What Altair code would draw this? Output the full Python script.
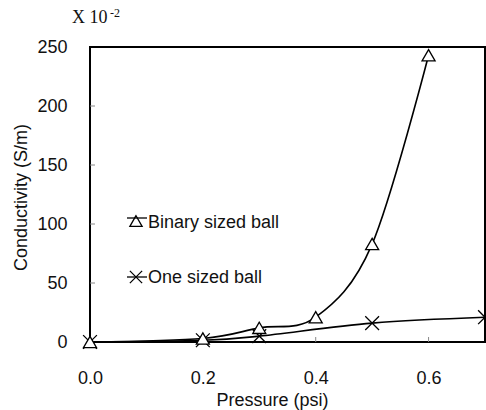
import altair as alt
import pandas as pd

# ---- data ----
pressure_binary = [0.0, 0.2, 0.3, 0.4, 0.5, 0.6]
cond_binary = [0, 3, 12, 21, 83, 243]
pressure_one = [0.0, 0.2, 0.3, 0.5, 0.7]
cond_one = [0, 1.5, 5, 16, 21]
legend_labels = ["Binary sized ball", "One sized ball"]
x_ticks = [0.0, 0.2, 0.4, 0.6]
y_ticks = [0, 50, 100, 150, 200, 250]

FONT = "Liberation Sans"
W, H = 395, 295

df_b = pd.DataFrame({"p": pressure_binary, "c": cond_binary})
df_o = pd.DataFrame({"p": pressure_one, "c": cond_one})
df_xt = pd.DataFrame({"p": x_ticks[1:]})
df_yt = pd.DataFrame({"c": y_ticks[1:-1]})
one = pd.DataFrame({"k": [0]})

xs = alt.Scale(domain=[0, 0.7], nice=False, zero=False)
ys = alt.Scale(domain=[0, 250], nice=False)

xaxis = alt.Axis(values=x_ticks, format=".1f", title="Pressure (psi)", grid=False,
                 domain=False, ticks=False, tickSize=0, labelPadding=27, labelFlush=False,
                 labelFont=FONT, labelFontSize=18, labelColor="#111",
                 titleFont=FONT, titleFontSize=18, titleFontWeight="normal", titleColor="#111",
                 titleX=182, titleY=63, titleBaseline="alphabetic")
yaxis = alt.Axis(values=y_ticks, title="Conductivity (S/m)", grid=False,
                 domain=False, ticks=False, tickSize=0, labelPadding=23, labelFlush=False,
                 labelFont=FONT, labelFontSize=18, labelColor="#111",
                 titleFont=FONT, titleFontSize=18, titleFontWeight="normal", titleColor="#111",
                 titleX=-64, titleY=150, titleBaseline="alphabetic")

cross = "M-1,-1L1,1M1,-1L-1,1"

line_b = alt.Chart(df_b).mark_line(color="black", strokeWidth=1.6, interpolate="cardinal").encode(
    x=alt.X("p:Q", scale=xs, axis=xaxis),
    y=alt.Y("c:Q", scale=ys, axis=yaxis),
)
line_o = alt.Chart(df_o).mark_line(color="black", strokeWidth=1.6, interpolate="cardinal").encode(
    x=alt.X("p:Q", scale=xs), y=alt.Y("c:Q", scale=ys))
pts_o = alt.Chart(df_o).mark_point(shape=cross, size=190, filled=False, color="black",
                                   strokeWidth=1.3, opacity=1).encode(
    x=alt.X("p:Q", scale=xs), y=alt.Y("c:Q", scale=ys))
pts_b = alt.Chart(df_b).mark_point(shape="triangle-up", size=170, filled=False, fill="white",
                                   fillOpacity=1, stroke="black", strokeWidth=1.3, opacity=1).encode(
    x=alt.X("p:Q", scale=xs), y=alt.Y("c:Q", scale=ys))

xtick = alt.Chart(df_xt).mark_rule(color="#888", strokeWidth=1).encode(
    x=alt.X("p:Q", scale=xs), y=alt.value(H), y2=alt.value(H - 5))
ytick = alt.Chart(df_yt).mark_rule(color="#888", strokeWidth=1).encode(
    y=alt.Y("c:Q", scale=ys), x=alt.value(0), x2=alt.value(5))

# legend
leg_rule1 = alt.Chart(one).mark_rule(color="black", strokeWidth=1.3).encode(
    x=alt.value(37), x2=alt.value(57), y=alt.value(171))
leg_pt1 = alt.Chart(one).mark_point(shape="triangle-up", size=150, filled=False, fill="white",
                                    fillOpacity=0, stroke="black", strokeWidth=1.3, opacity=1).encode(
    x=alt.value(46), y=alt.value(174))
leg_txt1 = alt.Chart(one).mark_text(align="left", baseline="middle", font=FONT, fontSize=18,
                                    color="#111", text=legend_labels[0]).encode(
    x=alt.value(58), y=alt.value(176))
leg_rule2 = alt.Chart(one).mark_rule(color="black", strokeWidth=1.3).encode(
    x=alt.value(37), x2=alt.value(57), y=alt.value(230))
leg_pt2 = alt.Chart(one).mark_point(shape=cross, size=150, filled=False, color="black",
                                    strokeWidth=1.3, opacity=1).encode(
    x=alt.value(46), y=alt.value(230))
leg_txt2 = alt.Chart(one).mark_text(align="left", baseline="middle", font=FONT, fontSize=18,
                                    color="#111", text=legend_labels[1]).encode(
    x=alt.value(58), y=alt.value(231))

# multiplier note "X 10^-2"
mult = alt.Chart(one).mark_text(align="left", baseline="alphabetic", font="Liberation Serif",
                                fontSize=18, color="#111", text="X 10").encode(
    x=alt.value(-18), y=alt.value(-24))
mult_exp = alt.Chart(one).mark_text(align="left", baseline="alphabetic", font="Liberation Serif",
                                    fontSize=12, color="#111", text="-2").encode(
    x=alt.value(20), y=alt.value(-30))

chart = alt.layer(
    xtick, ytick, line_b, line_o, pts_o, pts_b,
    leg_rule1, leg_pt1, leg_txt1, leg_rule2, leg_pt2, leg_txt2, mult, mult_exp
).properties(
    width=W, height=H,
    autosize=alt.AutoSizeParams(type="none"),
    padding={"left": 90, "top": 47, "right": 1, "bottom": 68},
    background="white",
).configure_view(stroke="black", strokeWidth=2)

chart.save("out.html", embed_options={"renderer": "svg", "actions": False})
